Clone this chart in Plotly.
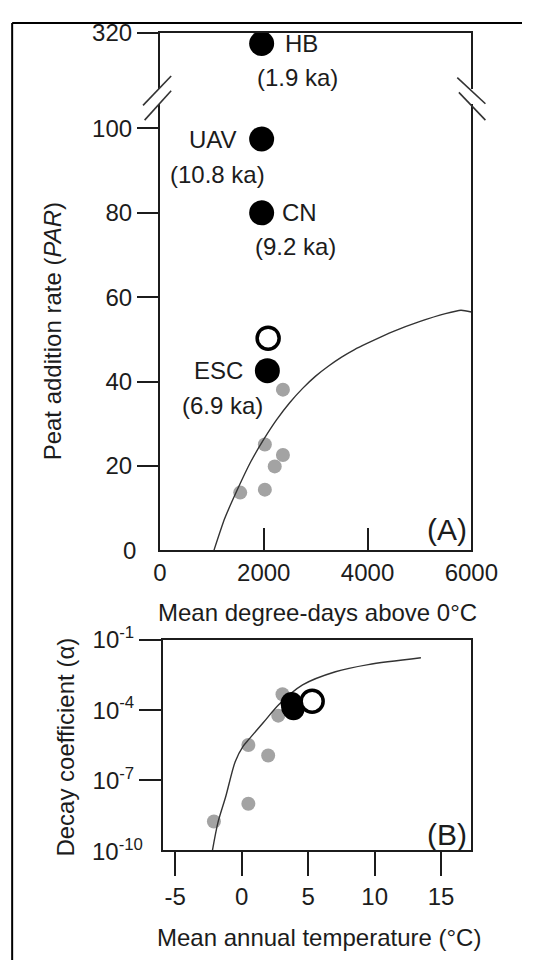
import plotly.graph_objects as go

W, H = 549, 960
FONT = "Liberation Sans, Arial, sans-serif"
INK = "#1c1c1c"
GREY = "#a3a3a3"

# ---------------- Panel A: peat addition rate vs degree-days ----------------
site_names = ["HB", "UAV", "CN", "ESC"]
site_ages = ["(1.9 ka)", "(10.8 ka)", "(9.2 ka)", "(6.9 ka)"]
site_gdd = [1960, 1960, 1960, 2070]
site_par = [317.5, 97.5, 80.0, 42.6]

open_gdd = [2085]
open_par = [50.3]

ref_gdd = [2370, 2022, 2370, 2212, 2022, 1547]
ref_par = [38.1, 25.1, 22.6, 19.9, 14.4, 13.7]

curve_gdd = [1041, 1250, 1500, 1750, 2000, 2250, 2500, 2750, 3000, 3250, 3500, 3750,
             4000, 4500, 5000, 5500, 5800, 6000]
curve_par = [0.0, 7.6, 14.6, 21.0, 26.3, 31.0, 35.0, 38.4, 41.3, 43.7, 45.8, 47.6,
             49.1, 51.9, 54.2, 56.1, 56.9, 56.5]

gdd_ticks = [0, 2000, 4000, 6000]
par_ticks = [20, 40, 60, 80, 100]
par_upper_ticks = [320]
par_lower_range = [0, 105.7]
par_upper_range = [307, 320]

# ---------------- Panel B: decay coefficient vs mean annual temperature ----------------
ref_temp = [-2.09, 0.50, 0.50, 1.99, 2.75, 3.07]
ref_alpha = [1.7e-9, 9.8e-9, 3.2e-6, 1.15e-6, 5.8e-5, 4.8e-4]

site_temp = [3.75, 3.85, 3.90, 3.80]
site_alpha = [2.0e-4, 1.6e-4, 1.1e-4, 1.3e-4]

open_temp = [5.3]
open_alpha = [2.4e-4]

curve_temp = [-2.2, -1.78, -1.2, -0.49, 0.1, 0.57, 1.63, 2.8, 4.58, 7.05, 9.52, 13.48]
curve_alpha = [1.0e-10, 1.6e-9, 2.0e-8, 6.2e-7, 2.8e-6, 5.9e-6, 2.95e-5, 1.74e-4,
               1.2e-3, 4.4e-3, 8.9e-3, 1.74e-2]

temp_ticks = [-5, 0, 5, 10, 15]
temp_labels = ["-5", "0", "5", "10", "15"]
alpha_ticks = [1e-1, 1e-4, 1e-7]
alpha_labels = ["10<sup>-1</sup>", "10<sup>-4</sup>", "10<sup>-7</sup>"]


def fx(p):
    return p / W


def fy(p):
    return 1 - p / H


fig = go.Figure()

# --- panel A traces ---
fig.add_trace(go.Scatter(x=ref_gdd, y=ref_par, mode="markers", xaxis="x", yaxis="y",
                         marker=dict(size=14, color=GREY), cliponaxis=False))
fig.add_trace(go.Scatter(x=curve_gdd, y=curve_par, mode="lines", xaxis="x", yaxis="y",
                         line=dict(color="#333333", width=1.4, shape="spline", smoothing=0.6)))
low_x = [g for g, p in zip(site_gdd, site_par) if p <= par_lower_range[1]]
low_y = [p for p in site_par if p <= par_lower_range[1]]
high_x = [g for g, p in zip(site_gdd, site_par) if p > par_lower_range[1]]
high_y = [p for p in site_par if p > par_lower_range[1]]
fig.add_trace(go.Scatter(x=low_x, y=low_y, mode="markers", xaxis="x", yaxis="y",
                         marker=dict(size=25, color="black"), cliponaxis=False))
fig.add_trace(go.Scatter(x=high_x, y=high_y, mode="markers", xaxis="x2", yaxis="y2",
                         marker=dict(size=25, color="black"), cliponaxis=False))
fig.add_trace(go.Scatter(x=open_gdd, y=open_par, mode="markers", xaxis="x", yaxis="y",
                         marker=dict(size=22, color="white", line=dict(color="black", width=3.5)),
                         cliponaxis=False))

# --- panel B traces ---
fig.add_trace(go.Scatter(x=ref_temp, y=ref_alpha, mode="markers", xaxis="x3", yaxis="y3",
                         marker=dict(size=14, color=GREY), cliponaxis=False))
fig.add_trace(go.Scatter(x=curve_temp, y=curve_alpha, mode="lines", xaxis="x3", yaxis="y3",
                         line=dict(color="#333333", width=1.4, shape="spline", smoothing=0.8)))
fig.add_trace(go.Scatter(x=site_temp, y=site_alpha, mode="markers", xaxis="x3", yaxis="y3",
                         marker=dict(size=22, color="black"), cliponaxis=False))
fig.add_trace(go.Scatter(x=open_temp, y=open_alpha, mode="markers", xaxis="x3", yaxis="y3",
                         marker=dict(size=22, color="white", line=dict(color="black", width=3.5)),
                         cliponaxis=False))

axis_common = dict(showgrid=False, zeroline=False, showline=True, linecolor=INK, linewidth=2,
                   tickcolor=INK, tickwidth=2, tickfont=dict(family=FONT, size=24, color=INK))

xa_dom = [fx(163), fx(495)]
xb_dom = [fx(166.3), fx(494.8)]

fig.update_layout(
    width=W, height=H, autosize=False,
    margin=dict(l=0, r=0, t=0, b=0),
    paper_bgcolor="white", plot_bgcolor="rgba(0,0,0,0)",
    showlegend=False,
    font=dict(family=FONT, size=24, color=INK),
    xaxis=dict(domain=xa_dom, anchor="y", range=[0, 6000], tickvals=gdd_ticks,
               ticks="inside", ticklen=22, mirror=False, **axis_common),
    yaxis=dict(domain=[fy(543), fy(89)], anchor="x", range=par_lower_range, tickvals=par_ticks,
               ticks="outside", ticklen=21, mirror=True, **axis_common),
    xaxis2=dict(domain=xa_dom, anchor="y2", range=[0, 6000], side="top", showticklabels=False,
                ticks="", mirror=False, **axis_common),
    yaxis2=dict(domain=[fy(73), fy(16)], anchor="x2", range=par_upper_range,
                tickvals=par_upper_ticks, ticks="outside", ticklen=21, mirror=True, **axis_common),
    xaxis3=dict(domain=xb_dom, anchor="y3", range=[-5.92, 17.26], tickvals=temp_ticks,
                ticktext=temp_labels, ticks="outside", ticklen=24, mirror=True, **axis_common),
    yaxis3=dict(domain=[fy(848.3), fy(634.3)], anchor="x3", type="log", range=[-10, -1],
                tickvals=alpha_ticks, ticktext=alpha_labels, ticks="outside", ticklen=22,
                mirror=True, **axis_common),
)

ann = []
txt = dict(font=dict(family=FONT, size=24, color=INK), showarrow=False)
big = dict(font=dict(family=FONT, size=30, color=INK), showarrow=False)

# site labels
ann.append(dict(x=2370, y=317.5, xref="x2", yref="y2", text="HB", xanchor="left", **txt))
ann.append(dict(x=2657, y=309.5, xref="x2", yref="y2", text=site_ages[0], xanchor="center", **txt))
ann.append(dict(x=1515, y=97.5, xref="x", yref="y", text="UAV", xanchor="right", **txt))
ann.append(dict(x=1102, y=89.2, xref="x", yref="y", text=site_ages[1], xanchor="center", **txt))
ann.append(dict(x=2306, y=80.0, xref="x", yref="y", text="CN", xanchor="left", **txt))
ann.append(dict(x=2620, y=72.1, xref="x", yref="y", text=site_ages[2], xanchor="center", **txt))
ann.append(dict(x=1643, y=42.6, xref="x", yref="y", text="ESC", xanchor="right", **txt))
ann.append(dict(x=1213, y=34.4, xref="x", yref="y", text=site_ages[3], xanchor="center", **txt))

# panel letters
ann.append(dict(x=5960, y=5.0, xref="x", yref="y", text="(A)", xanchor="right", **big))
ann.append(dict(x=17.1, y=-9.31, xref="x3", yref="y3", text="(B)", xanchor="right", **big))

# corner tick labels without tick marks
ann.append(dict(x=fx(140), y=0, xref="paper", yref="y", text="0", xanchor="right", **txt))
ann.append(dict(x=fx(147), y=-10, xref="paper", yref="y3", text="10<sup>-10</sup>",
                xanchor="right", **txt))

# axis titles
ann.append(dict(x=fx(48), y=fy(320), xref="paper", yref="paper", textangle=-90,
                text="Peat addition rate (<i>PAR</i>)", xanchor="center", yanchor="middle", **txt))
ann.append(dict(x=fx(331), y=fy(606), xref="paper", yref="paper",
                text="Mean degree-days above 0°C", xanchor="center", yanchor="middle", **txt))
ann.append(dict(x=fx(62), y=fy(743.6), xref="paper", yref="paper", textangle=-90,
                text="Decay coefficient (α)", xanchor="center", yanchor="middle", **txt))
ann.append(dict(x=fx(333), y=fy(937), xref="paper", yref="paper",
                text="Mean annual temperature (°C)", xanchor="center", yanchor="middle", **txt))
fig.update_layout(annotations=ann)

# frame and axis-break marks
shapes = []
line = dict(color="black", width=2)
shapes.append(dict(type="line", xref="paper", yref="paper", x0=fx(5.5), y0=fy(6), x1=fx(5.5), y1=0, line=line))
shapes.append(dict(type="line", xref="paper", yref="paper", x0=fx(5.5), y0=fy(6), x1=1, y1=fy(6), line=line))
brk = dict(color="#333333", width=1.6)
for (x0, y0, x1, y1) in [(175, 60, 145, 90), (175, 75, 146.7, 105),
                         (480, 61.7, 510, 88.3), (481.7, 76.7, 510, 105)]:
    shapes.append(dict(type="line", xref="paper", yref="paper",
                       x0=fx(x0), y0=fy(y0), x1=fx(x1), y1=fy(y1), line=brk))
fig.update_layout(shapes=shapes)

fig.write_html("out.html")
